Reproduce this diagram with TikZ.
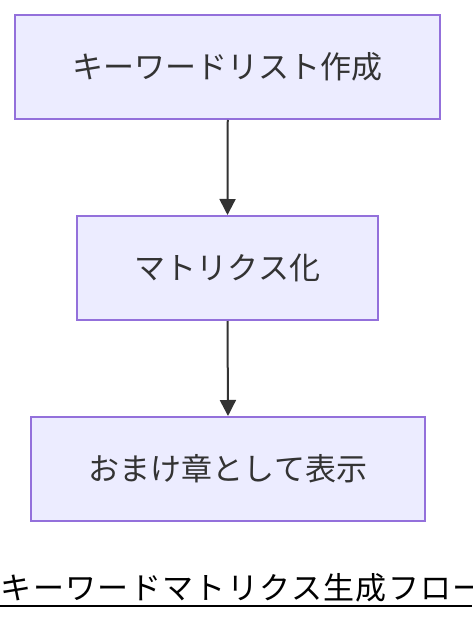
\documentclass[tikz,border=0pt]{standalone}
\usepackage{fontspec}
\usetikzlibrary{arrows.meta}
\newfontfamily\jpfont{Noto Sans CJK JP}
\newfontfamily\jptitle[LetterSpace=4.4]{Noto Sans CJK JP}
\definecolor{boxfill}{HTML}{ECECFF}
\definecolor{boxline}{HTML}{9370DB}
\definecolor{txt}{HTML}{333333}
\tikzset{
  flowbox/.style={draw=boxline, fill=boxfill, line width=2pt, inner sep=0pt,
    minimum height=104pt, text=txt, font=\jpfont\fontsize{31}{36}\selectfont},
  flowarrow/.style={draw=txt, line width=2pt, -{Triangle[length=16pt,width=16pt]}},
  titletext/.style={inner sep=0pt, text=black, font=\jptitle\fontsize{31}{36}\selectfont}
}
\begin{document}
\begin{tikzpicture}[x=1pt,y=-1pt]
\useasboundingbox (0,0) rectangle (472,620);
\node[flowbox, minimum width=425pt] (a) at (227.75,67) {キーワードリスト作成};
\node[flowbox, minimum width=301pt] (b) at (227.5,268) {マトリクス化};
\node[flowbox, minimum width=394pt] (c) at (228,469) {おまけ章として表示};
\draw[flowarrow] (a.south) -- (b.north);
\draw[flowarrow] (b.south) -- (c.north);
\node[titletext, anchor=west] (t) at (0.5,588) {キーワードマトリクス生成フロー};
\coordinate (ul) at (0,605.5);
\coordinate (ur) at (472,605.5);
\draw[line width=2pt, black] (ul) -- (ur);
\end{tikzpicture}
\end{document}
